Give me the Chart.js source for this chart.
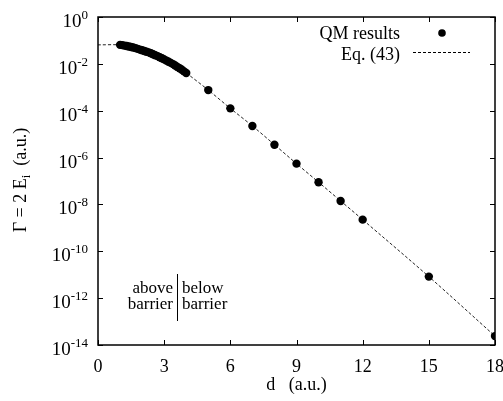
<!DOCTYPE html>
<html>
<head>
<meta charset="utf-8">
<script src="https://cdn.jsdelivr.net/npm/chart.js@4"></script>
<style>
  html, body { margin: 0; padding: 0; background: #fff; }
  #wrap { width: 503px; height: 401px; position: relative; }
</style>
</head>
<body>
<div id="wrap"><canvas id="chart"></canvas></div>
<script>
// QM results (d in a.u., Gamma in a.u.)
var qmD = [1.0, 1.1, 1.2, 1.3, 1.4, 1.5, 1.6, 1.7, 1.8, 1.9, 2.0,
           2.1, 2.2, 2.3, 2.4, 2.5, 2.6, 2.7, 2.8, 2.9, 3.0,
           3.1, 3.2, 3.3, 3.4, 3.5, 3.6, 3.7, 3.8, 3.9, 4.0,
           5, 6, 7, 8, 9, 10, 11, 12, 15, 18];
var qmG = [0.0646, 0.0631, 0.0603, 0.0575, 0.0550, 0.0525, 0.0501, 0.0468, 0.0437, 0.0407, 0.0380,
           0.0355, 0.0331, 0.0309, 0.0282, 0.0257, 0.0234, 0.0214, 0.0191, 0.0174, 0.0155,
           0.0138, 0.0123, 0.0110, 0.00977, 0.00851, 0.00741, 0.00646, 0.00562, 0.00479, 0.00407,
           7.6e-4, 1.26e-4, 2.24e-5, 3.55e-6, 5.5e-7, 8.9e-8, 1.41e-8, 2.24e-9, 8.3e-12, 2.4e-14];

// Eq. (43)
var eqD = [0, 1.0, 1.5, 2.0, 2.5, 3.0, 3.5, 4.0, 5, 6, 7, 8, 9, 10, 11, 12, 15, 18];
var eqG = [0.0646, 0.0646, 0.0525, 0.0380, 0.0257, 0.0155, 0.00851, 0.00407,
           7.6e-4, 1.26e-4, 2.24e-5, 3.55e-6, 5.5e-7, 8.9e-8, 1.41e-8, 2.24e-9, 8.3e-12, 2.4e-14];

var xTicks = [0, 3, 6, 9, 12, 15, 18];
var yExps = [0, -2, -4, -6, -8, -10, -12, -14];

var FONT = "'Liberation Serif', 'Times New Roman', serif";

function pts(xs, ys) {
  var out = [];
  for (let i = 0; i < xs.length; i++) out.push({x: xs[i], y: ys[i]});
  return out;
}

// frame, inward ticks, labels, legend, notes
var decor = {
  id: 'decor',
  afterDraw(chart) {
    var c = chart.ctx;
    var a = chart.chartArea;
    var xs = chart.scales.x, ys = chart.scales.y;
    c.save();
    c.strokeStyle = '#000';
    c.fillStyle = '#000';

    // frame
    c.lineWidth = 1.5;
    c.strokeRect(a.left, a.top, a.right - a.left, a.bottom - a.top);

    // ticks
    c.lineWidth = 1;
    c.beginPath();
    xs.ticks.forEach(function(t) {
      var px = Math.round(xs.getPixelForValue(t.value)) + 0.5;
      c.moveTo(px, a.bottom); c.lineTo(px, a.bottom - 5);
      c.moveTo(px, a.top); c.lineTo(px, a.top + 5);
    });
    ys.ticks.forEach(function(t) {
      var py = Math.round(ys.getPixelForValue(t.value)) + 0.5;
      c.moveTo(a.left, py); c.lineTo(a.left + 5, py);
      c.moveTo(a.right, py); c.lineTo(a.right - 5, py);
    });
    c.stroke();

    // x tick labels
    c.font = '18px ' + FONT;
    c.textAlign = 'center';
    c.textBaseline = 'alphabetic';
    xs.ticks.forEach(function(t) {
      c.fillText(String(t.value), xs.getPixelForValue(t.value), a.bottom + 27);
    });

    // y tick labels 10^n
    yExps.forEach(function(e) {
      var py = ys.getPixelForValue(Math.pow(10, e));
      c.font = '13px ' + FONT;
      var sup = String(e);
      var sw = c.measureText(sup).width;
      c.textAlign = 'right';
      c.fillText(sup, 88, py + 2);
      c.font = '19px ' + FONT;
      c.fillText('10', 88 - sw, py + 10);
    });

    // x title
    c.font = '18px ' + FONT;
    c.textAlign = 'center';
    c.fillText('d   (a.u.)', (a.left + a.right) / 2, a.bottom + 45);

    // y title, rotated, with subscript
    c.save();
    c.translate(26, 180);
    c.rotate(-Math.PI / 2);
    c.textAlign = 'left';
    var p1 = '\u0393 = 2 E', p2 = 'i', p3 = '  (a.u.)';
    c.font = '18px ' + FONT;
    var w1 = c.measureText(p1).width, w3 = c.measureText(p3).width;
    c.font = '13px ' + FONT;
    var w2 = c.measureText(p2).width;
    var x0 = -(w1 + w2 + w3) / 2;
    c.font = '18px ' + FONT;
    c.fillText(p1, x0, 0);
    c.font = '13px ' + FONT;
    c.fillText(p2, x0 + w1, 4);
    c.font = '18px ' + FONT;
    c.fillText(p3, x0 + w1 + w2, 0);
    c.restore();

    // barrier note
    c.font = '17px ' + FONT;
    c.textAlign = 'right';
    c.fillText('above', 173, 293);
    c.fillText('barrier', 173, 309);
    c.textAlign = 'left';
    c.fillText('below', 182, 293);
    c.fillText('barrier', 182, 309);
    c.beginPath();
    c.moveTo(177.5, 274); c.lineTo(177.5, 321);
    c.stroke();

    // legend
    c.font = '18px ' + FONT;
    c.textAlign = 'right';
    c.fillText('QM results', 400, 39);
    c.fillText('Eq. (43)', 400, 60);
    c.beginPath();
    c.arc(442, 33, 3.8, 0, Math.PI * 2);
    c.fill();
    c.setLineDash([3, 2]);
    c.beginPath();
    c.moveTo(413, 52.5); c.lineTo(470, 52.5);
    c.stroke();
    c.restore();
  }
};

new Chart(document.getElementById('chart'), {
  type: 'scatter',
  data: {
    datasets: [{
      label: 'Eq. (43)',
      data: pts(eqD, eqG),
      showLine: true,
      borderColor: '#222',
      borderWidth: 1,
      borderDash: [3, 2],
      pointRadius: 0,
      tension: 0.3,
      order: 2
    }, {
      label: 'QM results',
      data: pts(qmD, qmG),
      showLine: false,
      pointRadius: 4.2,
      pointBackgroundColor: '#000',
      pointBorderColor: '#000',
      pointBorderWidth: 0,
      order: 1
    }]
  },
  options: {
    responsive: true,
    maintainAspectRatio: false,
    animation: false,
    layout: { padding: { left: 0, top: 17, right: 8, bottom: 0 } },
    plugins: { legend: { display: false }, tooltip: { enabled: false } },
    scales: {
      x: {
        type: 'linear', min: 0, max: 18,
        ticks: { display: false, stepSize: 3 },
        afterBuildTicks: function(s) { s.ticks = xTicks.map(function(v) { return {value: v}; }); },
        grid: { display: false, drawTicks: false },
        border: { display: false },
        afterFit: function(s) { s.height = 56; }
      },
      y: {
        type: 'logarithmic', min: 1e-14, max: 1,
        ticks: { display: false },
        afterBuildTicks: function(s) { s.ticks = yExps.map(function(e) { return {value: Math.pow(10, e)}; }); },
        grid: { display: false, drawTicks: false },
        border: { display: false },
        afterFit: function(s) { s.width = 98; }
      }
    }
  },
  plugins: [decor]
});
</script>
</body>
</html>
